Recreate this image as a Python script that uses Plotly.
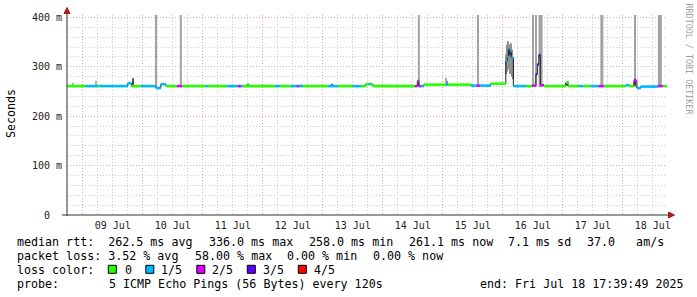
import plotly.graph_objects as go
import pandas as pd

# ---------------- data ----------------
# times are hours relative to 2025-07-09 00:00
range_start = "2025-07-08 17:39:49"
range_end = "2025-07-18 17:39:49"
base_day = "2025-07-09 00:00:00"

# median RTT segments (start h, end h, median ms, lost pings out of 5)
seg_start_h = [-6.34, 1.2, 6.0, 6.8, 18.0, 19.4, 23.2, 29.2, 31.2, 33.2, 37.6, 39.6, 49.2, 50.0,
               57.6, 62.0, 63.2, 64.0, 76.8, 78.8, 83.2, 85.6, 86.4, 88.0, 98.0, 102.0, 108.0,
               111.2, 113.2, 114.4, 115.2, 116.0, 132.8, 133.8, 134.4, 135.2, 136.4, 145.2,
               146.0, 155.2, 157.6, 158.8, 163.2, 169.2, 169.8, 170.2, 170.6, 171.0, 171.4,
               172.2, 177.2, 179.6, 181.2, 181.8, 182.4, 183.0, 184.4, 193.2, 194.0, 198.4,
               200.0, 203.2, 206.4, 208.4, 217.2, 218.4, 220.4, 221.6, 223.2, 230.0, 232.0]
seg_end_h = [1.2, 6.0, 6.8, 18.0, 19.4, 23.2, 29.2, 31.2, 33.2, 37.6, 39.6, 49.2, 50.0, 57.6,
             62.0, 63.2, 64.0, 76.8, 78.8, 83.2, 85.6, 86.4, 88.0, 98.0, 102.0, 108.0, 111.2,
             113.2, 114.4, 115.2, 116.0, 132.8, 133.8, 134.4, 135.2, 136.4, 145.2, 146.0,
             155.2, 157.6, 158.8, 163.2, 169.2, 169.8, 170.2, 170.6, 171.0, 171.4, 172.2,
             177.2, 179.6, 181.2, 181.8, 182.4, 183.0, 184.4, 193.2, 194.0, 198.4, 200.0,
             203.2, 206.4, 208.4, 217.2, 218.4, 220.4, 221.6, 223.2, 230.0, 232.0, 233.66]
seg_rtt_ms = [261, 261, 261, 261, 267, 261, 261, 257, 265, 261, 261, 261, 261, 261,
              261, 261, 261, 261, 261, 261, 261, 261, 261, 261, 261, 261, 261,
              261, 265, 265, 265, 261, 261, 271, 261, 261, 264, 264,
              264, 262, 262, 262, 266, 312, 320, 336, 325, 331, 318,
              261, 261, 262, 285, 305, 324, 263, 261, 268, 261, 261,
              261, 261, 261, 261, 263, 261, 272, 257, 260, 261, 261]
seg_loss = [0, 1, 0, 1, 1, 0, 1, 1, 1, 0, 2, 0, 1, 0,
            1, 2, 1, 0, 1, 0, 1, 2, 1, 0, 1, 0, 1,
            0, 0, 1, 0, 0, 2, 2, 2, 1, 0, 1,
            0, 1, 2, 1, 0, 1, 0, 1, 3, 1, 1,
            1, 0, 2, 3, 3, 3, 2, 0, 0, 0, 1,
            0, 1, 2, 0, 1, 0, 2, 1, 1, 2, 0]

# smoke (spread of the individual pings)
smoke_start_h = [28.9, 38.8, 134.0, 157.8, 179.7, 181.0, 182.3, 207.0, 220.8, 230.0,
                 -4.2, 5.0, 19.8, 65.8, 87.0, 99.4, 145.0, 145.6, 193.0, 193.8, 220.6,
                 169.2, 169.6, 170.0, 170.4, 170.8, 171.2, 171.6, 172.0]
smoke_end_h = [29.5, 39.6, 134.8, 158.2, 180.3, 181.6, 183.9, 208.2, 221.2, 231.6,
               -3.8, 5.4, 20.2, 66.2, 87.4, 99.8, 145.4, 146.0, 193.4, 194.2, 221.0,
               169.6, 170.0, 170.4, 170.8, 171.2, 171.6, 172.0, 172.4]
smoke_low_ms = [259, 259, 259, 259, 259, 259, 259, 259, 259, 259,
                259, 259, 259, 261, 261, 261, 264, 264, 262, 262, 262,
                285, 290, 300, 295, 285, 290, 280, 275]
smoke_high_ms = [420, 420, 420, 420, 420, 420, 420, 420, 420, 420,
                 268, 272, 277, 266, 265, 266, 278, 272, 268, 272, 276,
                 325, 345, 352, 345, 340, 348, 335, 320]
smoke_density = [0.34, 0.34, 0.34, 0.34, 0.34, 0.34, 0.34, 0.34, 0.34, 0.34,
                 0.25, 0.25, 0.75, 0.75, 0.25, 0.75, 0.25, 0.45, 0.75, 0.25, 0.8,
                 0.43, 0.43, 0.43, 0.43, 0.43, 0.43, 0.43, 0.43]

loss_labels = ["0", "1/5", "2/5", "3/5", "4/5"]
loss_colors = ["#26ff00", "#00b8ff", "#dd00ff", "#5e00ff", "#ff0000"]

y_tickvals = [0, 100, 200, 300, 400]
y_ticktext = ["0\u00a0\u00a0", "100\u00a0m", "200\u00a0m", "300\u00a0m", "400\u00a0m"]

legend_rows = [
    ["median rtt:  262.5 ms avg", "336.0 ms max", "258.0 ms min", "261.1 ms now",
     "7.1 ms sd", "37.0   am/s"],
    ["packet loss: 3.52 % avg", "58.00 % max", "0.00 % min", "0.00 % now"],
]
probe_label = "probe:"
probe_text = "5 ICMP Echo Pings (56 Bytes) every 120s"
end_text = "end: Fri Jul 18 17:39:49 2025"
loss_title = "loss color:"

# ---------------- helpers ----------------
T0 = pd.Timestamp(base_day)
HOUR_MS = 3600000.0


def t(h):
    return T0 + pd.to_timedelta(h, unit="h")


L, R, T, B = 67, 30, 15, 82
W, H = 697, 297
PW, PH = W - L - R, H - T - B
Y_MAX = 405


def px(x):
    return (x - L) / PW


def py(y):
    return (T + PH - y) / PH


def nb(s):
    return s.replace(" ", "\u00a0")


MONO = "DejaVu Sans Mono"
FS = 11.66
CW = 7.02          # advance of one character
GLUE = 2 * CW + 1.7  # gap between legend items
X0 = 15.3

fig = go.Figure()

# smoke
sm_x = [t((a + b) / 2) for a, b in zip(smoke_start_h, smoke_end_h)]
sm_w = [(b - a) * HOUR_MS for a, b in zip(smoke_start_h, smoke_end_h)]
sm_col = []
for d in smoke_density:
    g = int(round(230 - 200 * d))
    sm_col.append(f"rgb({g},{g},{g})")
fig.add_trace(go.Bar(
    x=sm_x, y=[h - l for l, h in zip(smoke_low_ms, smoke_high_ms)], base=smoke_low_ms,
    width=sm_w, marker=dict(color=sm_col, line=dict(width=0)), hoverinfo="skip"))

# median black line
mx, my = [], []
for s, e, v in zip(seg_start_h, seg_end_h, seg_rtt_ms):
    mx += [t(s), t(e)]
    my += [v, v]
fig.add_trace(go.Scatter(x=mx, y=my, mode="lines", line=dict(color="#202020", width=1),
                         hoverinfo="skip"))

# loss coloured median
for k, col in enumerate(loss_colors):
    xs, ys = [], []
    for s, e, v, lo in zip(seg_start_h, seg_end_h, seg_rtt_ms, seg_loss):
        if lo == k:
            xs += [t(s), t(e), None]
            ys += [v, v, None]
    if xs:
        fig.add_trace(go.Scatter(x=xs, y=ys, mode="lines", line=dict(color=col, width=2.6),
                                 hoverinfo="skip"))

MAJ = "#e4a8a8"
MIN = "#cdcdcd"
DOT = "1px,2px"

fig.update_layout(
    width=W, height=H, margin=dict(l=L, r=R, t=T, b=B),
    paper_bgcolor="white", plot_bgcolor="white", showlegend=False, barmode="overlay",
    font=dict(family=MONO, size=10, color="#222"),
    xaxis=dict(
        type="date", range=[range_start, range_end], tick0=base_day, dtick=86400000,
        tickformat="%d %b", ticklabelmode="period", showgrid=True, gridcolor=MAJ,
        griddash=DOT, gridwidth=1, zeroline=False, showline=False, ticks="",
        ticklabelstandoff=3,
        tickfont=dict(family=MONO, size=10, color="#222"),
        minor=dict(dtick=21600000, tick0=base_day, showgrid=True, gridcolor=MIN,
                   griddash=DOT, gridwidth=1),
    ),
    yaxis=dict(
        range=[0, Y_MAX], tickvals=y_tickvals, ticktext=y_ticktext, showgrid=True,
        gridcolor=MAJ, griddash=DOT, gridwidth=1, zeroline=False, showline=False,
        ticks="", ticklabelstandoff=4, tickfont=dict(family=MONO, size=10, color="#222"),
        minor=dict(dtick=20, showgrid=True, gridcolor=MIN, griddash=DOT, gridwidth=1),
    ),
)

shapes = []
AX = "#303030"
ARW = "#a61e1e"
# axes
shapes.append(dict(type="line", xref="paper", yref="paper", x0=px(67), x1=px(67),
                   y0=py(216), y1=py(10), line=dict(color=AX, width=1), layer="above"))
shapes.append(dict(type="line", xref="paper", yref="paper", x0=px(62), x1=px(670),
                   y0=py(215), y1=py(215), line=dict(color=AX, width=1), layer="above"))
# arrow heads
shapes.append(dict(type="path", xref="paper", yref="paper", layer="above",
                   path=f"M {px(64)} {py(13.5)} L {px(67)} {py(7.5)} L {px(70)} {py(13.5)} Z",
                   fillcolor=ARW, line=dict(color=ARW, width=1)))
shapes.append(dict(type="path", xref="paper", yref="paper", layer="above",
                   path=f"M {px(668.5)} {py(212)} L {px(674.5)} {py(215)} L {px(668.5)} {py(218)} Z",
                   fillcolor=ARW, line=dict(color=ARW, width=1)))

# loss colour boxes / labels (x positions in pixels)
loss_box_x = [108.3, 145.8, 196.8, 247.3, 298.3]
loss_text_x = [122.6, 159.3, 210.0, 261.0, 312.0]
for bx, col in zip(loss_box_x, loss_colors):
    shapes.append(dict(type="rect", xref="paper", yref="paper", x0=px(bx), x1=px(bx + 8),
                       y0=py(273.3), y1=py(265.3), fillcolor=col,
                       line=dict(color="#000", width=1)))
fig.update_layout(shapes=shapes)

ann = []
row_y = [241.5, 255.5, 269.5, 283.5]


def add_text(x, y, txt, size=FS, color="#000", angle=0, anchor="left", family=MONO):
    ann.append(dict(text=nb(txt), xref="paper", yref="paper", x=px(x), y=py(y),
                    xanchor=anchor, yanchor="middle", showarrow=False, textangle=angle,
                    font=dict(family=family, size=size, color=color)))


for yy, row in zip(row_y[:2], legend_rows):
    col = 0
    for i, txt in enumerate(row):
        add_text(X0 + col * CW + i * (GLUE - 2 * CW), yy, txt)
        col += len(txt) + 2
add_text(X0, row_y[2], loss_title)
for xx, txt in zip(loss_text_x, loss_labels):
    add_text(xx, row_y[2], txt)
add_text(X0, row_y[3], probe_label)
add_text(106.6, row_y[3], probe_text)
add_text(477.6, row_y[3], end_text)
add_text(11, 114, "Seconds", angle=-90, anchor="center")
add_text(688.5, 59, "RRDTOOL / TOBI OETIKER", size=8.4, color="#a0a0a0", angle=90,
         anchor="center")
fig.update_layout(annotations=ann)

fig.write_html("out.html")
